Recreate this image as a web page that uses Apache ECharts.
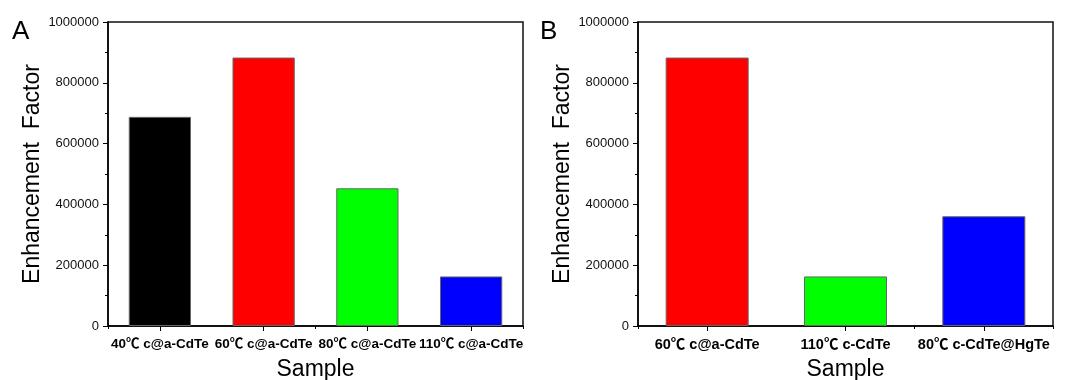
<!DOCTYPE html>
<html>
<head>
<meta charset="utf-8">
<script src="https://cdn.jsdelivr.net/npm/echarts@6/dist/echarts.min.js"></script>
<style>
html,body{margin:0;padding:0;background:#fff;}
#chart{width:1067px;height:380px;}
</style>
</head>
<body>
<div id="chart"></div>
<script>
// ---- data ----
const categoriesA = ['40℃ c@a-CdTe', '60℃ c@a-CdTe', '80℃ c@a-CdTe', '110℃ c@a-CdTe'];
const valuesA = [688000, 883000, 453000, 163000];
const categoriesB = ['60℃ c@a-CdTe', '110℃ c-CdTe', '80℃ c-CdTe@HgTe'];
const valuesB = [883000, 163000, 361000];
const yMin = 0;
const yMax = 1000000;
const yInterval = 200000;
const yAxisTitle = 'Enhancement  Factor';
const xAxisTitle = 'Sample';
const panelLabels = ['A', 'B'];

// ---- styles ----
const colorsA = ['#000000', '#ff0000', '#00ff00', '#0000ff'];
const colorsB = ['#ff0000', '#00ff00', '#0000ff'];
const FONT = '"Liberation Sans", Arial, "Noto Sans CJK SC", sans-serif';

const chart = echarts.init(document.getElementById('chart'), null, {renderer: 'canvas'});

function grid(left) {
  return {left: left, top: 22, width: 415, height: 304, show: true, containLabel: false,
    outerBoundsMode: 'none',
    borderColor: '#111', borderWidth: 1.5, backgroundColor: 'rgba(0,0,0,0)'};
}
function xMain(gi, cats, fs) {
  return {
    type: 'category', gridIndex: gi, data: cats, position: 'bottom',
    name: xAxisTitle, nameLocation: 'middle', nameGap: 32,
    nameTextStyle: {fontFamily: FONT, fontSize: 23, color: '#000'},
    axisLine: {show: true, lineStyle: {color: '#000', width: 1.5}},
    axisTick: {show: true, alignWithLabel: true, length: 5, inside: false, lineStyle: {color: '#000', width: 1}},
    axisLabel: {show: true, interval: 0, margin: 12, fontFamily: FONT, fontSize: fs, fontWeight: 'bold', color: '#000'},
    splitLine: {show: false}
  };
}
function xMinor(gi, cats) {
  return {
    type: 'category', gridIndex: gi, data: cats, position: 'bottom',
    axisLine: {show: false},
    axisTick: {show: true, alignWithLabel: false, length: 3, inside: false, lineStyle: {color: '#000', width: 1}},
    axisLabel: {show: false},
    splitLine: {show: false}
  };
}
function yAx(gi) {
  return {
    type: 'value', gridIndex: gi, min: yMin, max: yMax, interval: yInterval,
    name: yAxisTitle, nameLocation: 'middle', nameGap: 56,
    nameTextStyle: {fontFamily: FONT, fontSize: 23, color: '#000'},
    axisLine: {show: true, lineStyle: {color: '#000', width: 1.5}},
    axisTick: {show: true, length: 5, inside: false, lineStyle: {color: '#000', width: 1}},
    minorTick: {show: true, splitNumber: 2, length: 3, lineStyle: {color: '#000', width: 1}},
    axisLabel: {show: true, margin: 9, fontFamily: FONT, fontSize: 13, color: '#111',
      formatter: v => String(v)},
    splitLine: {show: false}
  };
}
function barSeries(xi, yi, vals, colors) {
  return {
    type: 'bar', xAxisIndex: xi, yAxisIndex: yi, barWidth: '60%',
    data: vals.map((v, i) => ({value: v, itemStyle: {color: colors[i]}})),
    itemStyle: {borderColor: '#666', borderWidth: 1},
    emphasis: {disabled: true}
  };
}

const option = {
  animation: false,
  backgroundColor: '#fff',
  title: [
    {text: panelLabels[0], left: 7, top: 14, textStyle: {fontFamily: FONT, fontSize: 26, fontWeight: 'normal', color: '#000'}},
    {text: panelLabels[1], left: 535, top: 14, textStyle: {fontFamily: FONT, fontSize: 26, fontWeight: 'normal', color: '#000'}}
  ],
  grid: [grid(108), grid(638)],
  xAxis: [xMain(0, categoriesA, 13.5), xMinor(0, categoriesA), xMain(1, categoriesB, 14.5), xMinor(1, categoriesB)],
  yAxis: [yAx(0), yAx(1)],
  series: [
    barSeries(0, 0, valuesA, colorsA),
    barSeries(2, 1, valuesB, colorsB)
  ]
};
chart.setOption(option);
</script>
</body>
</html>
